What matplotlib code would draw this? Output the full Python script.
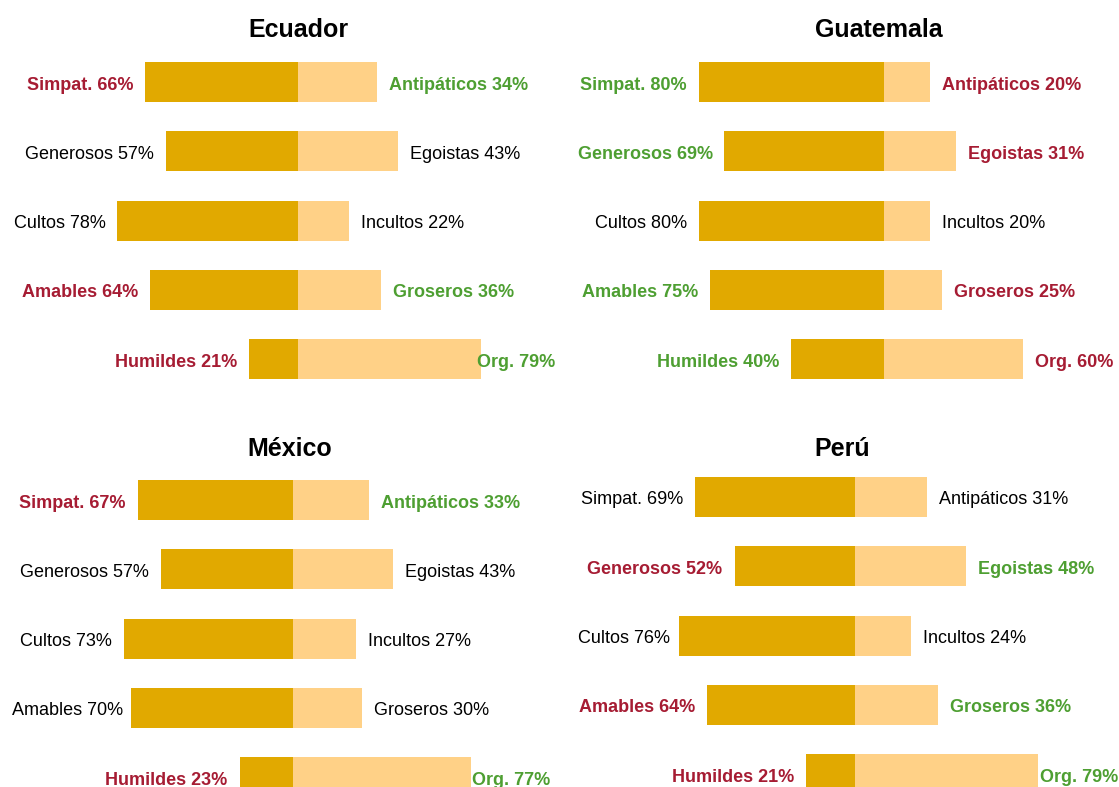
import matplotlib
matplotlib.use("Agg")
from matplotlib import pyplot as plt

plt.rcParams['font.family'] = ['Liberation Sans', 'DejaVu Sans']

# Data
countries = ["Ecuador", "Guatemala", "México", "Perú"]
left_names = ["Simpat.", "Generosos", "Cultos", "Amables", "Humildes"]
right_names = ["Antipáticos", "Egoistas", "Incultos", "Groseros", "Org."]

ecuador_left = [66, 57, 78, 64, 21]
ecuador_right = [34, 43, 22, 36, 79]
guatemala_left = [80, 69, 80, 75, 40]
guatemala_right = [20, 31, 20, 25, 60]
mexico_left = [67, 57, 73, 70, 23]
mexico_right = [33, 43, 27, 30, 77]
peru_left = [69, 52, 76, 64, 21]
peru_right = [31, 48, 24, 36, 79]

# colour of the left label per row: r = red, g = green, k = neutral (right label takes the opposite)
ecuador_mark = ["r", "k", "k", "r", "r"]
guatemala_mark = ["g", "g", "k", "g", "g"]
mexico_mark = ["r", "k", "k", "k", "r"]
peru_mark = ["k", "r", "k", "r", "r"]

lefts = [ecuador_left, guatemala_left, mexico_left, peru_left]
rights = [ecuador_right, guatemala_right, mexico_right, peru_right]
marks = [ecuador_mark, guatemala_mark, mexico_mark, peru_mark]

dark_gold = "#E1A900"
light_gold = "#FFD187"
red = "#A61C33"
green = "#4E9F32"
opposite = {"r": "g", "g": "r", "k": "k"}
colour = {"r": red, "g": green, "k": "black"}

W, H = 1119, 787
fig = plt.figure(figsize=(W / 100, H / 100), dpi=100)
renderer = fig.canvas.get_renderer()

px_per_pct = 2.315
row_step = 69.3
base_shift = 7.5 / row_step  # text baseline sits a bit below the bar centre
# pixel layout per panel: axes x range, bar centre, axes y range, first row y, title pos
panels = [
    dict(x0=0, x1=560, cx=298, y0=45, y1=410, r0=82, tx=298, ty=37, lim=(10, 555)),
    dict(x0=560, x1=1119, cx=884, y0=45, y1=410, r0=82, tx=879, ty=37, lim=(578, 1115)),
    dict(x0=0, x1=560, cx=293, y0=460, y1=787, r0=500, tx=290, ty=456, lim=(12, 550)),
    dict(x0=560, x1=1119, cx=855, y0=460, y1=787, r0=497, tx=842, ty=456, lim=(578, 1118)),
]

gap = 5.2
for country, lv, rv, mk, p in zip(countries, lefts, rights, marks, panels):
    ax = fig.add_axes([p["x0"] / W, 1 - p["y1"] / H, (p["x1"] - p["x0"]) / W, (p["y1"] - p["y0"]) / H])
    ax.set_xlim(-(p["cx"] - p["x0"]) / px_per_pct, (p["x1"] - p["cx"]) / px_per_pct)
    ax.set_ylim((p["y1"] - p["r0"]) / row_step, (p["y0"] - p["r0"]) / row_step)
    ax.axis("off")

    rows = range(len(lv))
    ax.barh(rows, [-v for v in lv], height=0.58, color=dark_gold, linewidth=0)
    ax.barh(rows, rv, height=0.58, color=light_gold, linewidth=0)

    for i in rows:
        lc = mk[i]
        rc = opposite[lc]
        tl = ax.text(-lv[i] - gap, i + base_shift, f"{left_names[i]} {lv[i]}%", ha="right", va="baseline",
                     fontsize=13, color=colour[lc], fontweight="bold" if lc != "k" else "normal")
        tr = ax.text(rv[i] + gap, i + base_shift, f"{right_names[i]} {rv[i]}%", ha="left", va="baseline",
                     fontsize=13, color=colour[rc], fontweight="bold" if rc != "k" else "normal")
        # keep labels inside the panel, like a repel layout would
        bl = tl.get_window_extent(renderer)
        if bl.x0 < p["lim"][0]:
            tl.set_x(tl.get_position()[0] + (p["lim"][0] - bl.x0) / px_per_pct)
        br = tr.get_window_extent(renderer)
        if br.x1 > p["lim"][1]:
            tr.set_x(tr.get_position()[0] - (br.x1 - p["lim"][1]) / px_per_pct)

    fig.text(p["tx"] / W, 1 - p["ty"] / H, country, ha="center", va="baseline",
             fontsize=18, fontweight="bold")

fig.savefig("out.png", dpi=100)
